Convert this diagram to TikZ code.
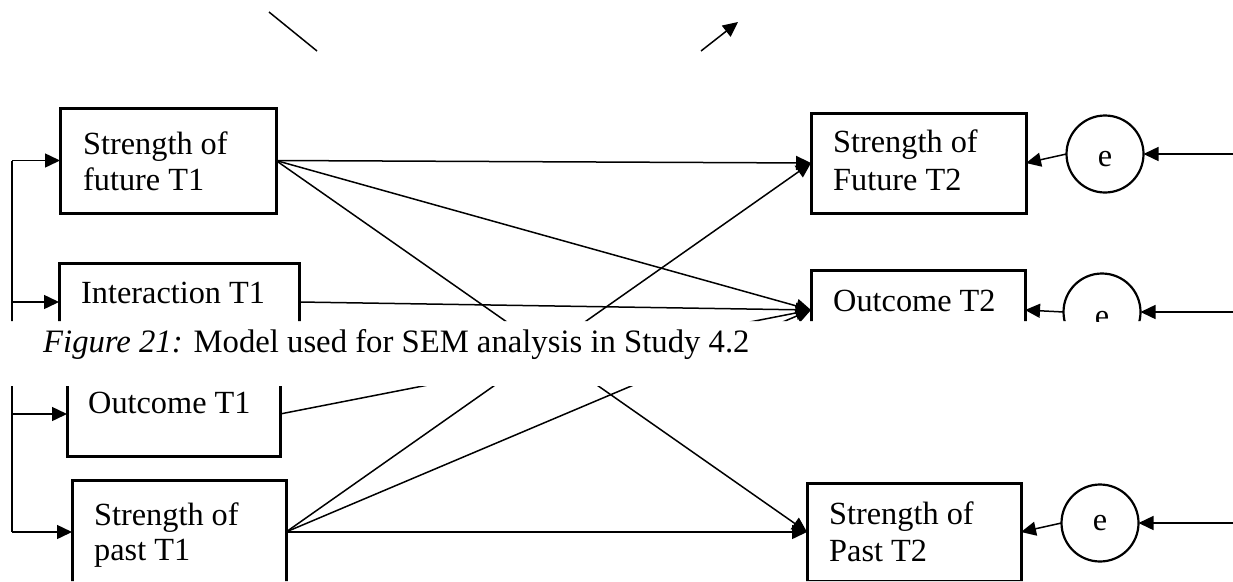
\documentclass[tikz,border=0pt]{standalone}
\usepackage{fontspec}
\setmainfont{Liberation Serif}
\usetikzlibrary{arrows.meta}
\begin{document}
\begin{tikzpicture}[x=1pt,y=-1pt,
  box/.style={draw,line width=3pt,rectangle,inner sep=0pt,outer sep=0pt},
  errc/.style={draw,circle,line width=2.2pt,minimum size=77pt,inner sep=0pt,outer sep=0pt},
  lbl/.style={anchor=base west,inner sep=0pt,font=\fontsize{32.3}{36}\selectfont},
  caplbl/.style={anchor=base west,inner sep=0pt,font=\fontsize{32.7}{36}\selectfont},
  elbl/.style={anchor=center,inner sep=0pt,font=\fontsize{32.3}{36}\selectfont},
  link/.style={line width=1.5pt,-{Triangle[length=15pt,width=14pt]}},
  plain/.style={line width=1.5pt}]
\useasboundingbox (0,0) rectangle (1233,581);

% stray path pieces above the model
\coordinate (s1a) at (269,12);
\coordinate (s1b) at (317,51);
\coordinate (s2a) at (701,51);
\coordinate (s2b) at (738,22);
\draw[plain] (s1a) -- (s1b);
\draw[link] (s2a) -- (s2b);

\begin{scope}
\clip (0,51) rectangle (1233,321) (0,386) rectangle (1233,581);

% time 1 variables
\node[box,minimum width=216pt,minimum height=105pt] (ft1) at (168,160.5) {};
\node[box,minimum width=240pt,minimum height=78pt]  (it1) at (179,302) {};
\node[box,minimum width=213pt,minimum height=84pt]  (ot1) at (173.5,414) {};
\node[box,minimum width=214pt,minimum height=104pt] (pt1) at (179,532) {};

% time 2 variables
\node[box,minimum width=215pt,minimum height=100pt] (ft2) at (918.5,163) {};
\node[box,minimum width=214pt,minimum height=80pt]  (ot2) at (918,310) {};
\node[box,minimum width=214pt,minimum height=98pt]  (pt2) at (914,532) {};

% residual terms
\node[errc] (e1) at (1105,154) {};
\node[errc] (e2) at (1102,312) {};
\node[errc] (e3) at (1100,523) {};

% labels
\node[lbl] (ft1a) at (83,154) {Strength of};
\node[lbl] (ft1b) at (83,190) {future T1};
\node[lbl] (it1a) at (81,303) {Interaction T1};
\node[lbl] (ot1a) at (88,413) {Outcome T1};
\node[lbl] (pt1a) at (94,525) {Strength of};
\node[lbl] (pt1b) at (94,560) {past T1};
\node[lbl] (ft2a) at (833,152) {Strength of};
\node[lbl] (ft2b) at (833,190) {Future T2};
\node[lbl] (ot2a) at (833,311) {Outcome T2};
\node[lbl] (pt2a) at (829,524) {Strength of};
\node[lbl] (pt2b) at (829,561) {Past T2};
\node[elbl] (e1t) at (1105,159.5) {e};
\node[elbl] (e2t) at (1102,319.5) {e};
\node[elbl] (e3t) at (1100,523.5) {e};

% correlation bus on the left
\coordinate (bt) at (12,160.5);
\coordinate (bi) at (12,302);
\coordinate (bo) at (12,414);
\coordinate (bb) at (12,532);
\draw[plain] (bt) -- (bb);
\draw[link] (bt) -- (ft1.west);
\draw[link] (bi) -- (it1.west);
\draw[link] (bo) -- (ot1.west);
\draw[link] (bb) -- (pt1.west);

% structural paths
\draw[link] (ft1.east) -- (ft2.west);
\draw[link] (ft1.east) -- (ot2.west);
\draw[link] (ft1.east) -- (pt2.west);
\draw[link] (it1.east) -- (ot2.west);
\draw[link] (ot1.east) -- (ot2.west);
\draw[link] (pt1.east) -- (ft2.west);
\draw[link] (pt1.east) -- (ot2.west);
\draw[link] (pt1.east) -- (pt2.west);

% residuals
\coordinate (r1) at (1233,154);
\coordinate (r2) at (1233,312);
\coordinate (r3) at (1233,523);
\draw[link] (r1) -- (e1.east);
\draw[link] (r2) -- (e2.east);
\draw[link] (r3) -- (e3.east);
\draw[link] (e1.west) -- (ft2.east);
\draw[link] (e2.west) -- (ot2.east);
\draw[link] (e3.west) -- (pt2.east);
\end{scope}

% caption
\node[caplbl] (cap) at (43,352) {\textit{Figure 21:} Model used for SEM analysis in Study 4.2};
\end{tikzpicture}
\end{document}
